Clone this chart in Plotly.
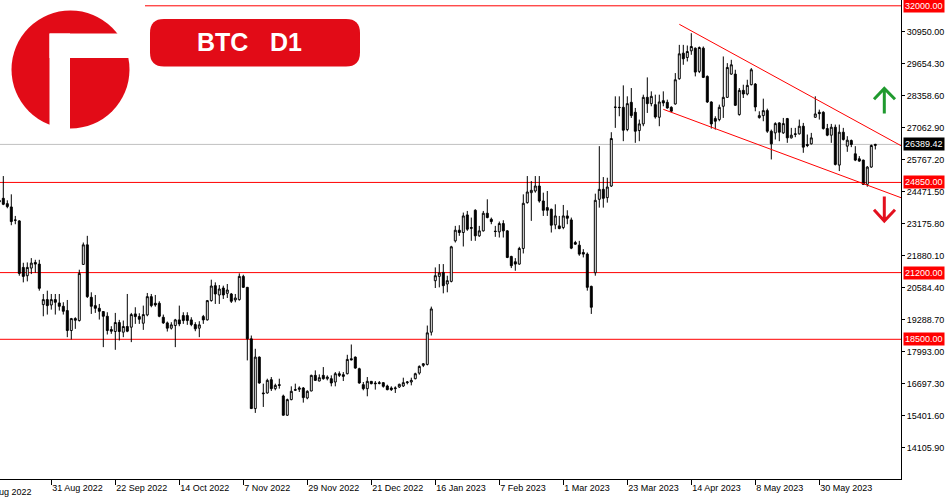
import plotly.graph_objects as go

# ---------------- data (BTC daily, broker weekday sessions, 12 Aug 2022 -> 19 Jun 2023) ----------------
opens = [
    24060, 24207, 23992, 23858, 23330, 23293, 21410, 21074, 21383, 21612,
    21544, 19904, 20106, 19890, 20106, 19971, 19836, 19662, 18855, 19339,
    19259, 21531, 22324, 20200, 19863, 19756, 19622, 19433, 18895, 18815,
    19178, 18788, 19017, 18990, 19528, 19420, 19151, 19487, 20227, 19958,
    19958, 19393, 19164, 18950, 19057, 19286, 19460, 19460, 19286, 19097,
    18950, 19420, 19286, 20066, 20671, 20294, 20576, 20361, 20335, 20092,
    20106, 21047, 20603, 18519, 15695, 17779, 16327, 16327, 16865, 16502,
    16663, 16206, 15426, 16058, 16435, 16475, 16529, 16125, 16408, 17040,
    16811, 17040, 16905, 16905, 16771, 17107, 17067, 17107, 17712, 17779,
    17309, 16663, 16502, 16798, 16731, 16744, 16744, 16610, 16529, 16502,
    16569, 16610, 16744, 16771, 16905, 17133, 17443, 17483, 18788, 20872,
    21047, 21208, 20738, 20845, 22486, 22916, 22822, 23535, 23024, 23723,
    22688, 22889, 23602, 23360, 22880, 22849, 23185, 22889, 21854, 21639,
    21545, 22177, 24032, 24436, 24503, 24705, 24099, 23831, 23763, 23131,
    23091, 23024, 23494, 23333, 22418, 22311, 22015, 21948, 20643, 21195,
    24167, 24570, 24234, 24704, 27900, 27891, 27891, 26990, 28093, 27690,
    26950, 27219, 28295, 28039, 27999, 27488, 28160, 28093, 27891, 28026,
    29048, 30083, 29908, 30177, 30285, 29344, 30285, 29142, 28107, 27434,
    27394, 27932, 28295, 29236, 29236, 27596, 28577, 28429, 28806, 28833,
    27474, 27555, 27757, 26923, 26856, 27259, 26856, 27434, 26654, 26789,
    26815, 27125, 26385, 26412, 27488, 27690, 27690, 27031, 26762, 27085,
    25552, 26883, 26318, 26547, 26009, 25807, 25753, 24772, 25471, 26345,
]
highs = [
    24230, 25108, 24126, 24368, 23494, 23320, 21598, 21612, 21787, 21719,
    21719, 20334, 20469, 20334, 20334, 20334, 20000, 20092, 19366, 19393,
    21316, 22418, 22688, 20402, 20294, 19931, 19640, 19595, 19030, 19568,
    19286, 19259, 20335, 19568, 19797, 19555, 19864, 20375, 20335, 20294,
    20039, 19501, 19218, 19191, 19326, 19864, 19595, 19595, 19393, 19191,
    19232, 19487, 20092, 20913, 20805, 20697, 20671, 20738, 20375, 20335,
    21168, 21114, 20620, 18653, 18116, 17806, 16704, 16905, 16973, 16704,
    16905, 16260, 16099, 16596, 16704, 16596, 16569, 16435, 17067, 17242,
    17080, 17376, 17040, 17040, 17174, 17201, 17174, 17873, 18290, 17806,
    17349, 16771, 16973, 16811, 16811, 16811, 16771, 16663, 16596, 16596,
    16704, 16946, 16811, 16946, 17147, 17443, 17537, 19057, 19823, 21410,
    21545, 21545, 21074, 22284, 23091, 23118, 23629, 23696, 23427, 23763,
    23091, 23696, 24167, 23427, 23091, 23266, 23320, 22916, 21881, 21786,
    22244, 24368, 25108, 24906, 25108, 25108, 24436, 24503, 23790, 23965,
    23494, 23938, 23723, 23427, 22485, 22485, 22149, 22015, 20670, 24395,
    26318, 25067, 25040, 26883, 28335, 28335, 28779, 28335, 28671, 27865,
    27394, 28402, 29102, 28537, 28402, 28402, 28537, 28201, 27932, 29276,
    30419, 30419, 30393, 30890, 30312, 30352, 30352, 29182, 28133, 27528,
    27999, 29949, 29680, 29814, 29411, 28671, 28806, 29007, 29478, 28873,
    27730, 28241, 27837, 26990, 27286, 27286, 27461, 27461, 27058, 27058,
    27394, 27259, 26789, 26856, 28335, 27797, 27730, 27219, 27219, 27192,
    27192, 27058, 26722, 26587, 26318, 25915, 25770, 25512, 26385, 26412,
]
lows = [
    23980, 23930, 23804, 23118, 23158, 21074, 20805, 20845, 21141, 21195,
    20469, 19433, 19501, 19702, 19501, 19662, 19501, 18586, 18492, 18922,
    19218, 21517, 20173, 19527, 19568, 19299, 18183, 18694, 18721, 18075,
    18452, 18586, 18788, 18385, 19124, 19124, 18882, 19433, 19797, 19820,
    19393, 19124, 18815, 18896, 18183, 19030, 19124, 19084, 19030, 18828,
    18586, 19124, 19259, 20025, 19931, 19931, 20133, 20173, 19971, 19998,
    20066, 20576, 17645, 15680, 15520, 16704, 15762, 16300, 16408, 16435,
    16502, 15420, 15399, 16031, 16408, 16368, 15937, 16072, 16395, 16811,
    16798, 16865, 16838, 16596, 16596, 16973, 16811, 17080, 17645, 17309,
    16704, 16435, 16193, 16677, 16462, 16677, 16542, 16435, 16408, 16327,
    16529, 16569, 16677, 16636, 16879, 17067, 17376, 17443, 18654, 20576,
    20603, 20361, 20402, 20805, 22419, 22688, 22257, 22889, 22486, 22486,
    22647, 22862, 23400, 23158, 22647, 22620, 22620, 21786, 21383, 21275,
    21518, 21975, 23992, 23293, 24436, 24032, 23494, 23494, 22822, 22956,
    22956, 22956, 23158, 22149, 22324, 21881, 21814, 20469, 19527, 21074,
    23830, 23830, 24032, 24664, 27058, 27528, 26520, 26923, 27461, 26453,
    26520, 27125, 27663, 27932, 27434, 27125, 27932, 27837, 27690, 27999,
    29007, 29613, 29747, 30016, 29142, 29276, 29075, 28066, 27031, 26990,
    27327, 27461, 28268, 29209, 27945, 27555, 28268, 28375, 28779, 27730,
    27434, 27327, 26856, 25780, 26587, 26520, 26815, 26453, 26627, 26681,
    26789, 26049, 26278, 26385, 27461, 27394, 26990, 26722, 26453, 25538,
    25309, 26547, 26089, 26278, 25713, 25686, 24745, 24677, 25444, 26184,
]
closes = [
    24120, 23965, 23871, 23266, 23320, 21168, 21047, 21410, 21585, 21544,
    20563, 20106, 19863, 20106, 19998, 19836, 19635, 18855, 19339, 19272,
    21168, 22324, 20227, 19836, 19756, 19635, 19433, 18855, 18828, 19178,
    18815, 19017, 18828, 19501, 19420, 19312, 19501, 20227, 19864, 19891,
    19433, 19164, 18950, 19084, 19286, 19124, 19259, 19259, 19097, 18923,
    19084, 19286, 20066, 20657, 20335, 20536, 20294, 20496, 20039, 20173,
    21047, 20603, 18519, 15695, 17779, 16731, 16300, 16838, 16502, 16636,
    16636, 15426, 16058, 16395, 16462, 16529, 16139, 16395, 17040, 16838,
    16946, 16905, 16973, 16731, 17107, 17040, 17000, 17685, 17672, 17336,
    16731, 16502, 16798, 16704, 16704, 16717, 16596, 16462, 16462, 16529,
    16677, 16744, 16771, 16838, 17107, 17403, 17510, 18761, 19729, 21074,
    21182, 20671, 20872, 22244, 22916, 22822, 23494, 22956, 22997, 22688,
    22889, 23602, 23427, 23266, 22862, 23185, 22889, 21813, 21478, 21545,
    22177, 24005, 24463, 24530, 24705, 24099, 23723, 23723, 23118, 23494,
    22983, 23494, 23400, 22190, 22351, 21948, 21948, 20603, 19796, 24126,
    24570, 24207, 24664, 26627, 27891, 27880, 26964, 28039, 27555, 26923,
    27219, 28295, 28039, 28335, 27501, 28107, 28066, 27864, 27730, 29007,
    30056, 29855, 30150, 30352, 29317, 30312, 29102, 28107, 27219, 27327,
    27891, 28295, 29505, 29613, 27972, 28577, 28429, 28779, 29411, 27905,
    27555, 27757, 26923, 26412, 27232, 26883, 27232, 26654, 26762, 26815,
    27125, 26278, 26345, 26654, 27622, 27636, 27031, 26762, 27085, 25578,
    26883, 26587, 26560, 26385, 25753, 25713, 24772, 25471, 26345, 26389.42,
]
bar_index = list(range(len(opens)))          # 0 = 12 Aug 2022 (weekday sessions)

date_tick_index = [-3, 13, 29, 45, 61, 77, 93, 109, 125, 141, 157, 173, 189, 205]
date_tick_labels = ["9 Aug 2022", "31 Aug 2022", "22 Sep 2022", "14 Oct 2022", "7 Nov 2022",
                    "29 Nov 2022", "21 Dec 2022", "16 Jan 2023", "7 Feb 2023", "1 Mar 2023",
                    "23 Mar 2023", "14 Apr 2023", "8 May 2023", "30 May 2023"]

price_ticks = [30950.00, 29654.30, 28358.60, 27062.90, 25767.20, 24471.50, 23175.80,
               21880.10, 20584.40, 19288.70, 17993.00, 16697.30, 15401.60, 14105.90]

levels = [32000.00, 24850.00, 21200.00, 18500.00]
current_price = 26389.42

upper_trend_x = [170.0, 225.425]
upper_trend_y = [31251, 26337]
lower_trend_x = [166.0, 225.425]
lower_trend_y = [27810, 24232]

# ---------------- layout geometry ----------------
W, H = 950, 500
ML, MR, MT, MB = 0, 49, 0, 21
PW, PH = W - ML - MR, H - MT - MB
X_RANGE = [0.175, 225.425]
Y_RANGE = [12844.9, 32234.8]
RED = "#ff0000"
BRAND = "#e20b17"
FONT = "Liberation Sans"


def px(x):
    return x / PW


def py(y):
    return 1 - y / PH


fig = go.Figure()
fig.add_trace(go.Candlestick(
    x=bar_index, open=opens, high=highs, low=lows, close=closes,
    increasing=dict(line=dict(color="black", width=1), fillcolor="white"),
    decreasing=dict(line=dict(color="black", width=1), fillcolor="black"),
    whiskerwidth=0, showlegend=False,
))

shapes = []
# horizontal levels
for lv in levels:
    x0 = px(145) if lv == 32000.00 else 0
    shapes.append(dict(type="line", xref="paper", x0=x0, x1=1, yref="y", y0=lv, y1=lv,
                       line=dict(color=RED, width=1), layer="below"))
shapes.append(dict(type="line", xref="paper", x0=0, x1=1, yref="y", y0=current_price, y1=current_price,
                   line=dict(color="#c0c0c0", width=1), layer="below"))
# channel
shapes.append(dict(type="line", xref="x", yref="y", x0=upper_trend_x[0], x1=upper_trend_x[1],
                   y0=upper_trend_y[0], y1=upper_trend_y[1], line=dict(color=RED, width=1)))
shapes.append(dict(type="line", xref="x", yref="y", x0=lower_trend_x[0], x1=lower_trend_x[1],
                   y0=lower_trend_y[0], y1=lower_trend_y[1], line=dict(color=RED, width=1)))


def path_paper(points_cmds):
    out = []
    for cmd, pts in points_cmds:
        out.append(cmd + " " + " ".join(f"{px(a):.5f},{py(b):.5f}" for a, b in pts))
    return " ".join(out)


# arrows
shapes.append(dict(type="path", xref="paper", yref="paper",
                   path=path_paper([("M", [(874, 99.3)]), ("L", [(884.3, 88.5)]), ("L", [(895, 99.3)]),
                                    ("M", [(884.3, 88.5)]), ("L", [(884.3, 113.5)])]),
                   line=dict(color="#1f9a2e", width=3)))
shapes.append(dict(type="path", xref="paper", yref="paper",
                   path=path_paper([("M", [(884.3, 196.5)]), ("L", [(884.3, 221)]),
                                    ("M", [(874, 209.8)]), ("L", [(884.3, 221)]), ("L", [(895, 209.8)])]),
                   line=dict(color="#e3101e", width=3)))

# logo
shapes.append(dict(type="rect", xref="paper", yref="paper", x0=px(0), x1=px(144), y0=py(142), y1=py(0),
                   fillcolor="white", line=dict(width=0)))
shapes.append(dict(type="circle", xref="paper", yref="paper", x0=px(11.5), x1=px(129.5), y0=py(128.5), y1=py(10.5),
                   fillcolor=BRAND, line=dict(width=0)))
shapes.append(dict(type="rect", xref="paper", yref="paper", x0=px(49.5), x1=px(133), y0=py(58), y1=py(33.5),
                   fillcolor="white", line=dict(width=0)))
shapes.append(dict(type="rect", xref="paper", yref="paper", x0=px(49.5), x1=px(70), y0=py(131), y1=py(33.5),
                   fillcolor="white", line=dict(width=0)))


def rrect(x0, y0, x1, y1, r):
    return path_paper([
        ("M", [(x0 + r, y0)]), ("L", [(x1 - r, y0)]), ("Q", [(x1, y0), (x1, y0 + r)]),
        ("L", [(x1, y1 - r)]), ("Q", [(x1, y1), (x1 - r, y1)]), ("L", [(x0 + r, y1)]),
        ("Q", [(x0, y1), (x0, y1 - r)]), ("L", [(x0, y0 + r)]), ("Q", [(x0, y0), (x0 + r, y0)]),
    ]) + " Z"


shapes.append(dict(type="path", xref="paper", yref="paper", path=rrect(150, 19, 360, 66.5, 14),
                   fillcolor=BRAND, line=dict(width=0)))

annotations = []
annotations.append(dict(xref="paper", yref="paper", x=px(222), y=py(42.5), text="<b>BTC</b>", showarrow=False,
                        font=dict(family=FONT, size=25, color="white"), xanchor="center", yanchor="middle"))
annotations.append(dict(xref="paper", yref="paper", x=px(286), y=py(42.5), text="<b>D1</b>", showarrow=False,
                        font=dict(family=FONT, size=25, color="white"), xanchor="center", yanchor="middle"))

for lv in levels:
    annotations.append(dict(xref="paper", x=1, xanchor="left", xshift=2, yref="y", y=lv, yanchor="middle",
                            text=f"{lv:.2f}", showarrow=False, bgcolor=RED, borderpad=1,
                            font=dict(family=FONT, size=9, color="white")))
annotations.append(dict(xref="paper", x=1, xanchor="left", xshift=2, yref="y", y=current_price, yanchor="middle",
                        text=f"{current_price:.2f}", showarrow=False, bgcolor="black", borderpad=1,
                        font=dict(family=FONT, size=9, color="white")))

# first (cut-off) date label, partly outside the chart as in the source
first_x = (date_tick_index[0] - X_RANGE[0]) / (X_RANGE[1] - X_RANGE[0])
annotations.append(dict(xref="paper", yref="paper", x=first_x, y=0, xanchor="left", yanchor="top",
                        xshift=-3, yshift=-6, text=date_tick_labels[0], showarrow=False,
                        font=dict(family=FONT, size=9, color="black")))

fig.update_layout(
    width=W, height=H,
    margin=dict(l=ML, r=MR, t=MT, b=MB, pad=0),
    paper_bgcolor="white", plot_bgcolor="white",
    showlegend=False,
    shapes=shapes, annotations=annotations,
    xaxis=dict(range=X_RANGE, rangeslider=dict(visible=False), showgrid=False, zeroline=False,
               showline=True, linecolor="black", linewidth=1, ticks="outside", ticklen=5,
               tickcolor="black", tickvals=date_tick_index[1:], ticktext=date_tick_labels[1:],
               ticklabelposition="outside right",
               tickfont=dict(family=FONT, size=9, color="black")),
    yaxis=dict(side="right", range=Y_RANGE, showgrid=False, zeroline=False, showline=True,
               linecolor="black", linewidth=1, ticks="outside", ticklen=3, tickcolor="black",
               tickvals=price_ticks, ticktext=[f"{v:.2f}" for v in price_ticks],
               tickfont=dict(family=FONT, size=9, color="black")),
)

fig.write_html("out.html", config={"displayModeBar": False},
               post_script="document.body.style.margin='0px';")
